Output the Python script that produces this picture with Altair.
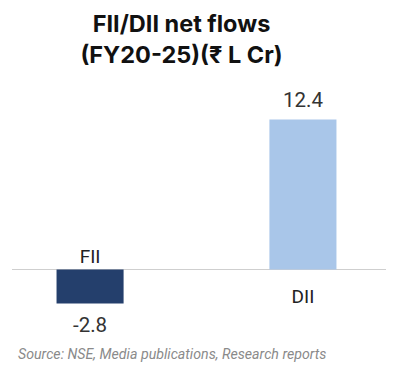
import altair as alt
import pandas as pd

categories = ["FII", "DII"]
values = [-2.8, 12.4]
value_labels = ["-2.8", "12.4"]
bar_colors = ["#243f6c", "#a9c6e9"]
title_lines = ["FII/DII net flows", "(FY20-25)(₹ L Cr)"]
source_text = "Source: NSE, Media publications, Research reports"

df = pd.DataFrame({"cat": categories, "val": values, "label": value_labels, "color": bar_colors})

W, H = 377, 278
FONT = "Roboto"

x = alt.X("cat:N", sort=categories, axis=None,
          scale=alt.Scale(paddingInner=0.685, paddingOuter=0.228))
y_scale = alt.Scale(domain=[-7.31, 15.66], nice=False, zero=False)
y = alt.Y("val:Q", scale=y_scale, axis=None)
y_zero = alt.Y(datum=0, scale=y_scale, axis=None)

base = alt.Chart(df)

zero_rule = base.transform_filter("datum.val > 0").mark_rule(color="#cfcfcf", strokeWidth=1).encode(
    y=y_zero, x=alt.value(4), x2=alt.value(378)
)

bars = base.mark_bar().encode(
    x=x, y=y, y2=alt.datum(0),
    color=alt.Color("color:N", scale=None, legend=None)
)

pos_val = base.transform_filter("datum.val >= 0").mark_text(
    font=FONT, fontSize=20.5, color="#333333", baseline="alphabetic", dy=-12
).encode(x=x, y=y, text="label:N")

neg_val = base.transform_filter("datum.val < 0").mark_text(
    font=FONT, fontSize=20.5, color="#333333", baseline="top", dy=13
).encode(x=x, y=y, text="label:N")

pos_cat = base.transform_filter("datum.val >= 0").mark_text(
    font=FONT, fontSize=19, color="#222222", baseline="alphabetic", dy=33
).encode(x=x, y=y_zero, text="cat:N")

neg_cat = base.transform_filter("datum.val < 0").mark_text(
    font=FONT, fontSize=19, color="#222222", baseline="alphabetic", dy=-7
).encode(x=x, y=y_zero, text="cat:N")

source = alt.Chart(pd.DataFrame({"t": [source_text]})).mark_text(
    font=FONT, fontSize=14.2, fontStyle="italic", color="#8a8a8a", align="left", baseline="middle"
).encode(text="t:N", x=alt.value(10), y=alt.value(275))

chart = alt.layer(zero_rule, bars, pos_val, neg_val, pos_cat, neg_cat, source).properties(
    width=W, height=H, padding={"left": 0, "right": 0, "top": 5, "bottom": 0},
    title=alt.TitleParams(title_lines, font="Inter", fontSize=23.5, fontWeight="bold",
                          lineHeight=31, anchor="middle", dx=-15, offset=12.5, color="#111111")
).configure_view(strokeWidth=0)

chart.save("out.html", embed_options={"renderer": "svg", "actions": False})
